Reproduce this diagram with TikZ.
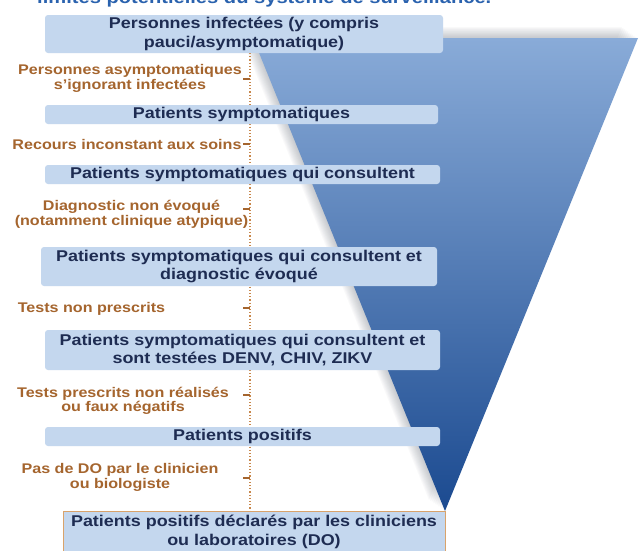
\documentclass[tikz,border=0pt]{standalone}
\usepackage{fontspec}
\setmainfont{Liberation Sans}[FakeStretch=1.15]
\usepackage{xcolor}
\definecolor{BoxBlue}{HTML}{C4D7EE}
\definecolor{NavyText}{HTML}{1E2C52}
\definecolor{LossBrown}{HTML}{A5652E}
\definecolor{GuideOrange}{HTML}{C8874B}
\definecolor{TitleBlue}{HTML}{2A62AE}
\definecolor{FunnelTop}{HTML}{89ABD8}
\definecolor{FunnelBottom}{HTML}{1B4A90}
\definecolor{DOBorder}{HTML}{D9A36B}
\definecolor{Haze}{HTML}{5A6470}

\begin{document}
\begin{tikzpicture}[
    x=1pt, y=-1pt,
    stage/.style={
        rectangle,
        rounded corners=3pt,
        fill=BoxBlue,
        text=NavyText,
        inner sep=1pt,
        align=center,
        font=\fontsize{15.6}{18.5}\selectfont\bfseries
    },
    loss/.style={
        text=LossBrown,
        inner sep=0pt,
        align=center,
        font=\fontsize{14}{14.5}\selectfont\bfseries
    },
    guide/.style={
        draw=GuideOrange,
        dotted,
        line width=1.2pt
    },
    tick/.style={
        draw=LossBrown,
        line width=1.2pt
    }
]

\fill[white] (0,0) rectangle (640,550);
\useasboundingbox (0,0) rectangle (640,550);

% Heading, cut at the top edge
\node[text=TitleBlue, anchor=base west, inner sep=0pt,
      font=\fontsize{17.5}{20}\selectfont\bfseries] (heading) at (37,3.5)
      {limites potentielles du système de surveillance.};

% Soft haze up and left of the funnel
\foreach \s in {1,...,10}
    \fill[Haze, opacity=0.035, shift={(-1.6*\s,-1.1*\s)}]
        (253,38) -- (638,38) -- (445,511) -- cycle;

% Funnel
\shade[top color=FunnelTop, bottom color=FunnelBottom]
      (253,38) -- (638,38) -- (445,511) -- cycle;

% Dotted guide behind the boxes
\draw[guide] (250,53) -- (250,511);
\foreach \y in {79,144,209,308,395,478}
    \draw[tick] (243,\y) -- (250,\y);

% Stages of the funnel
\node[stage, minimum width=398pt, minimum height=38pt] (infect) at (244,34)
      {Personnes infectées (y compris\\pauci/asymptomatique)};

\node[stage, minimum width=393pt, minimum height=19pt] (sympt) at (241.5,114.5)
      {Patients symptomatiques};

\node[stage, minimum width=395pt, minimum height=19pt] (consult) at (242.5,174.5)
      {Patients symptomatiques qui consultent};

\node[stage, minimum width=396pt, minimum height=39pt] (evoque) at (239,266.5)
      {Patients symptomatiques qui consultent et\\diagnostic évoqué};

\node[stage, minimum width=395pt, minimum height=40pt] (teste) at (242.5,350)
      {Patients symptomatiques qui consultent et\\sont testées DENV, CHIV, ZIKV};

\node[stage, minimum width=395pt, minimum height=19pt] (positif) at (242.5,436.5)
      {Patients positifs};

\node[stage, sharp corners, draw=DOBorder, line width=0.8pt,
      minimum width=382pt, minimum height=42pt] (declare) at (254,532)
      {Patients positifs déclarés par les cliniciens\\ou laboratoires (DO)};

% Losses between stages
\node[loss] (asympto) at (130,78.5)
      {Personnes asymptomatiques\\s’ignorant infectées};
\node[loss] (recours) at (127,144)
      {Recours inconstant aux soins};
\node[loss] (nonevoque) at (131.5,214.5)
      {Diagnostic non évoqué\\(notamment clinique atypique)};
\node[loss] (nonpresc) at (91.5,309)
      {Tests non prescrits};
\node[loss] (nonreal) at (123,401)
      {Tests prescrits non réalisés\\ou faux négatifs};
\node[loss] (nodo) at (120,477.5)
      {Pas de DO par le clinicien\\ou biologiste};

\end{tikzpicture}
\end{document}
